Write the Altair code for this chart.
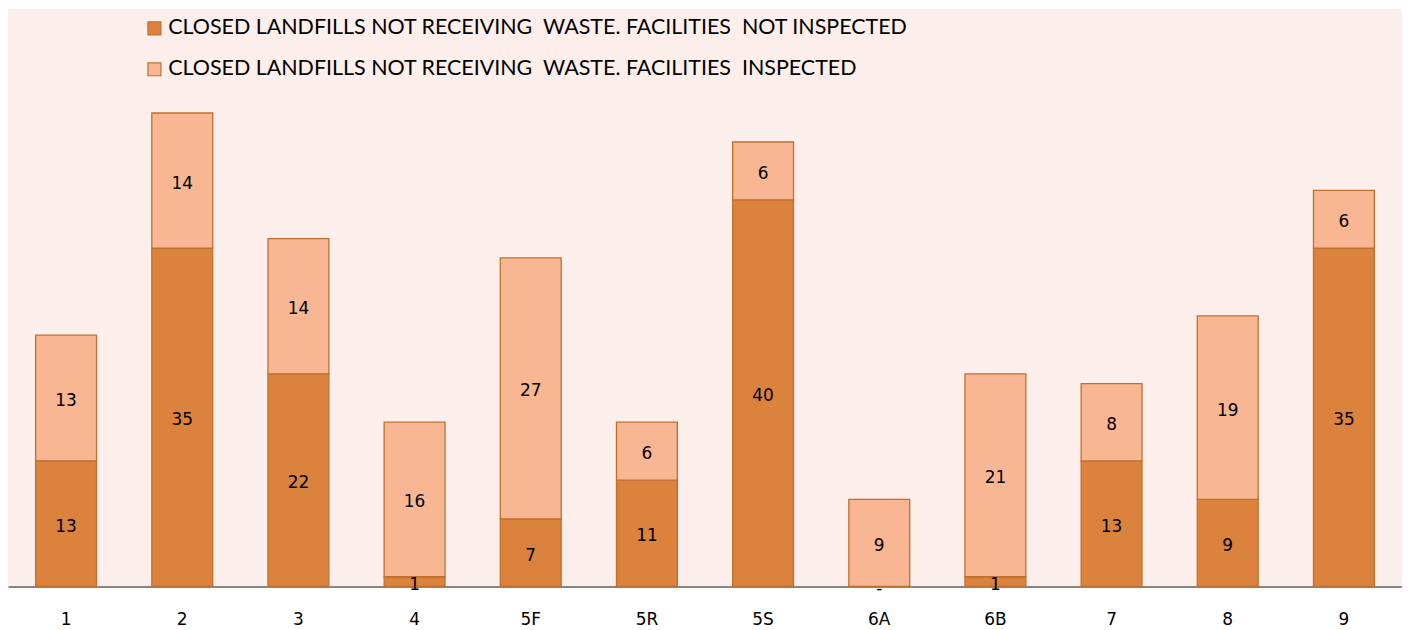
import altair as alt
import pandas as pd

categories = ["1", "2", "3", "4", "5F", "5R", "5S", "6A", "6B", "7", "8", "9"]
not_inspected = [13, 35, 22, 1, 7, 11, 40, 0, 1, 13, 9, 35]
inspected = [13, 14, 14, 16, 27, 6, 6, 9, 21, 8, 19, 6]

S1 = "CLOSED LANDFILLS NOT RECEIVING\u00a0 WASTE. FACILITIES\u00a0 NOT INSPECTED"
S2 = "CLOSED LANDFILLS NOT RECEIVING\u00a0 WASTE. FACILITIES\u00a0 INSPECTED"

rows = []
for c, a, b in zip(categories, not_inspected, inspected):
    rows.append({"cat": c, "series": S1, "value": a, "ord": 0,
                 "label": str(a) if a != 0 else "-"})
    rows.append({"cat": c, "series": S2, "value": b, "ord": 1,
                 "label": str(b) if b != 0 else "-"})
df = pd.DataFrame(rows)

xscale = alt.Scale(paddingInner=0.476, paddingOuter=0.238)
yscale = alt.Scale(domain=[0, 59.8], nice=False, zero=True)
color = alt.Color(
    "series:N",
    scale=alt.Scale(domain=[S1, S2], range=["#DB823D", "#F9B692"]),
    legend=alt.Legend(
        title=None, orient="none", legendX=136, legendY=9,
        symbolType="square", symbolSize=169, symbolStrokeWidth=1.2,
        symbolStrokeColor="#C0702E",
        labelFont="Lato", labelFontSize=21.5,
        labelColor="#000000", labelOffset=3, rowPadding=18,
        labelLimit=1000, padding=0,
    ),
)

base = alt.Chart(df).transform_stack(
    stack="value", groupby=["cat"], as_=["y0", "y1"],
    sort=[alt.SortField("ord", order="ascending")],
).transform_calculate(mid="(datum.y0 + datum.y1) / 2")

bars = base.mark_bar(stroke="#C0702E", strokeWidth=1.3).encode(
    x=alt.X("cat:N", sort=categories, scale=xscale,
            axis=alt.Axis(title=None, labelAngle=0, ticks=False,
                          domainColor="#868686", domainWidth=2,
                          labelFont="DejaVu Sans", labelFontSize=17,
                          labelColor="#000000", labelPadding=25)),
    y=alt.Y("y0:Q", scale=yscale, axis=None),
    y2="y1:Q",
    color=color,
)

text = base.mark_text(font="DejaVu Sans", fontSize=17, color="#000000",
                      baseline="middle", dy=3).encode(
    x=alt.X("cat:N", sort=categories, scale=xscale),
    y=alt.Y("mid:Q", scale=yscale),
    text="label:N",
)

chart = (bars + text).properties(
    width=1397, height=579, background="#FFFFFF",
    padding={"left": 0, "top": 0, "right": 0, "bottom": 0},
).configure_view(fill="#FCEEEA", stroke=None)

chart.save("out.html", embed_options={"renderer": "svg", "actions": False})
